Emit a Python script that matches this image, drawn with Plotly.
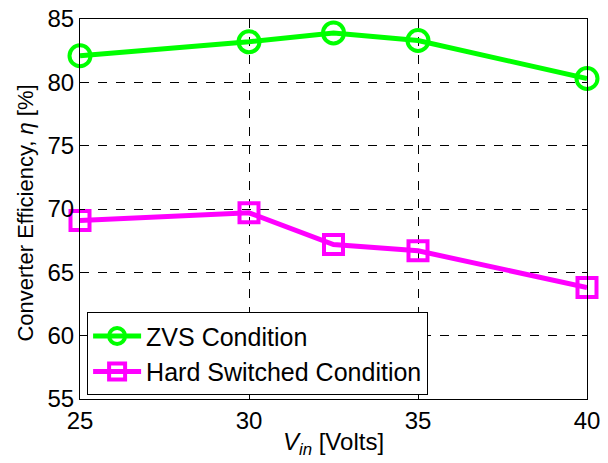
import plotly.graph_objects as go

vin = [25, 30, 32.5, 35, 40]
zvs = [82.1, 83.2, 83.9, 83.3, 80.3]
hard = [69.1, 69.7, 67.2, 66.7, 63.8]
x_ticks = [25, 30, 35, 40]
y_ticks = [55, 60, 65, 70, 75, 80, 85]

fig = go.Figure()
fig.add_trace(go.Scatter(
    x=vin, y=zvs, mode="lines+markers", name="ZVS Condition",
    line=dict(color="#00ff00", width=5),
    marker=dict(symbol="circle-open", size=21, color="#00ff00", line=dict(width=4, color="#00ff00")),
    cliponaxis=False))
fig.add_trace(go.Scatter(
    x=vin, y=hard, mode="lines+markers", name="Hard Switched Condition",
    line=dict(color="#ff00ff", width=5),
    marker=dict(symbol="square-open", size=19, color="#ff00ff", line=dict(width=4, color="#ff00ff")),
    cliponaxis=False))

font = "Liberation Sans, Arial, sans-serif"
fig.update_layout(
    width=608, height=463,
    margin=dict(l=80, r=21, t=19, b=64),
    paper_bgcolor="white", plot_bgcolor="white",
    font=dict(family=font, size=24, color="black"),
    showlegend=True,
    legend=dict(x=0.014, y=0.01, xanchor="left", yanchor="bottom",
                bgcolor="white", bordercolor="black", borderwidth=1,
                font=dict(size=25), tracegroupgap=0, itemwidth=48),
    xaxis=dict(range=[25, 40], tickvals=x_ticks, ticktext=[str(v) for v in x_ticks],
               showgrid=True, gridcolor="black", griddash="dash", gridwidth=1,
               showline=True, linecolor="black", linewidth=1, mirror="ticks",
               ticks="inside", ticklen=5, tickcolor="black", zeroline=False,
               tickfont=dict(size=24), automargin=False,
               title=dict(text="<i>V</i><sub><i>in</i></sub> [Volts]", font=dict(size=24), standoff=0)),
    yaxis=dict(range=[55, 85], tickvals=y_ticks,
               showgrid=True, gridcolor="black", griddash="dash", gridwidth=1,
               showline=True, linecolor="black", linewidth=1, mirror="ticks",
               ticks="inside", ticklen=5, tickcolor="black", zeroline=False,
               tickfont=dict(size=24), automargin=False),
    annotations=[dict(text="Converter Efficiency, <i>η</i> [%]", xref="paper", yref="paper",
                      x=-0.107, y=0.49, xanchor="center", yanchor="middle",
                      textangle=-90, showarrow=False, font=dict(size=22))],
)
fig.write_html("out.html", post_script="document.body.style.margin='0';",
               config={"displayModeBar": False})
